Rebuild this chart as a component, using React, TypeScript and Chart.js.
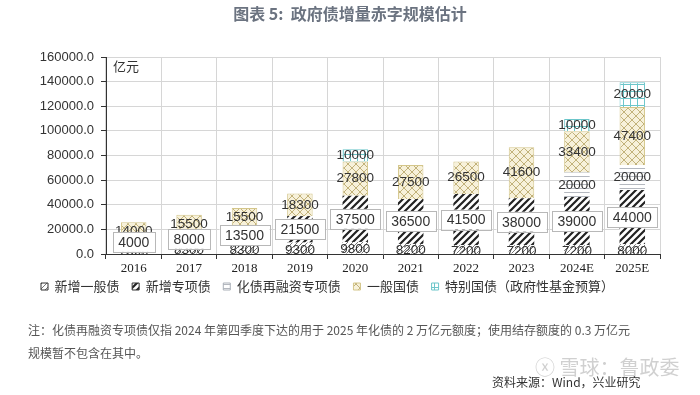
import React, { useEffect, useRef } from "react";
import { Chart, registerables } from "chart.js";

Chart.register(...registerables);

const categories = ["2016", "2017", "2018", "2019", "2020", "2021", "2022", "2023", "2024E", "2025E"];
const newGeneralBond = [7800, 8300, 8300, 9300, 9800, 8200, 7200, 7200, 7200, 8000];
const newSpecialBond = [4000, 8000, 13500, 21500, 37500, 36500, 41500, 38000, 39000, 44000];
const refinanceSpecialBond = [0, 0, 0, 0, 0, 0, 0, 0, 20000, 20000];
const generalTreasury = [14000, 15500, 15500, 18300, 27800, 27500, 26500, 41600, 33400, 47400];
const specialTreasury = [0, 0, 0, 0, 10000, 0, 0, 0, 10000, 20000];
const seriesNames = ["新增一般债", "新增专项债", "化债再融资专项债", "一般国债", "特别国债（政府性基金预算）"];
const yTicks = [0, 20000, 40000, 60000, 80000, 100000, 120000, 140000, 160000];

function makePattern(size: number, draw: (ctx: CanvasRenderingContext2D, s: number) => void) {
  const c = document.createElement("canvas");
  c.width = size;
  c.height = size;
  const ctx = c.getContext("2d")!;
  draw(ctx, size);
  return ctx.createPattern(c, "repeat")!;
}

function diag(ctx: CanvasRenderingContext2D, s: number, color: string, w: number, bg: string) {
  ctx.fillStyle = bg;
  ctx.fillRect(0, 0, s, s);
  ctx.strokeStyle = color;
  ctx.lineWidth = w;
  ctx.beginPath();
  ctx.moveTo(0, s);
  ctx.lineTo(s, 0);
  ctx.moveTo(-s / 2, s / 2);
  ctx.lineTo(s / 2, -s / 2);
  ctx.moveTo(s / 2, s + s / 2);
  ctx.lineTo(s + s / 2, s / 2);
  ctx.stroke();
}

const SANS = "'Liberation Sans', Arial, sans-serif";
const CJK = "'Noto Sans CJK SC', sans-serif";

export default function App() {
  const ref = useRef<HTMLCanvasElement>(null);

  useEffect(() => {
    const pGeneral = makePattern(5, (ctx, s) => diag(ctx, s, "#777", 1, "#ffffff"));
    const pSpecial = makePattern(7, (ctx, s) => diag(ctx, s, "#222", 2.2, "#ffffff"));
    const pRefi = makePattern(4, (ctx, s) => {
      ctx.fillStyle = "#ffffff";
      ctx.fillRect(0, 0, s, s);
      ctx.fillStyle = "#b4b8bf";
      ctx.fillRect(0, 0, s, 1);
    });
    const pTreasury = makePattern(8, (ctx, s) => {
      ctx.fillStyle = "#f7f1da";
      ctx.fillRect(0, 0, s, s);
      ctx.strokeStyle = "#c2b27a";
      ctx.lineWidth = 1;
      ctx.beginPath();
      ctx.moveTo(0, 0);
      ctx.lineTo(s, s);
      ctx.moveTo(0, s);
      ctx.lineTo(s, 0);
      ctx.stroke();
    });
    const pSpecialT = makePattern(7, (ctx, s) => {
      ctx.fillStyle = "#ffffff";
      ctx.fillRect(0, 0, s, s);
      ctx.fillStyle = "#6cc6ca";
      ctx.fillRect(0, 0, s, 1);
      ctx.fillRect(0, 0, 1, s);
    });

    const fills = [pGeneral, pSpecial, pRefi, pTreasury, pSpecialT];
    const borders = ["#444", "#333", "#aab0b8", "#d4c68a", "#6cc6ca"];
    const bw = [0, 0, 0, 1, 1];
    const values = [newGeneralBond, newSpecialBond, refinanceSpecialBond, generalTreasury, specialTreasury];

    const labelPlugin = {
      id: "segLabels",
      afterDraw(chart: any) {
        const ctx = chart.ctx as CanvasRenderingContext2D;
        ctx.save();
        ctx.font = `13px ${CJK}`;
        ctx.fillStyle = "#333";
        ctx.textAlign = "left";
        ctx.textBaseline = "middle";
        ctx.fillText("亿元", chart.chartArea.left + 7, chart.chartArea.top + 9);

        const order = [0, 2, 3, 4, 1];
        for (const di of order) {
          const meta = chart.getDatasetMeta(di);
          const data = chart.data.datasets[di].data as number[];
          meta.data.forEach((el: any, j: number) => {
            const v = data[j];
            if (!v) return;
            const p = el.getProps(["x", "y", "base"], true);
            const cy = (p.y + p.base) / 2;
            const txt = String(v);
            if (di === 1) {
              ctx.font = `14px ${SANS}`;
              const tw = ctx.measureText(txt).width;
              const w = tw + 11;
              const h = 20;
              ctx.fillStyle = "#ffffff";
              ctx.fillRect(p.x - w / 2, cy - h / 2, w, h);
              ctx.strokeStyle = "#b8b8b8";
              ctx.lineWidth = 1;
              ctx.strokeRect(Math.round(p.x - w / 2) + 0.5, Math.round(cy - h / 2) + 0.5, Math.round(w), h);
              ctx.fillStyle = "#333";
              ctx.textAlign = "center";
              ctx.textBaseline = "middle";
              ctx.fillText(txt, p.x, cy + 1);
            } else {
              ctx.font = `13.5px ${SANS}`;
              ctx.fillStyle = "#333";
              ctx.textAlign = "center";
              ctx.textBaseline = "middle";
              ctx.fillText(txt, p.x, cy + (di === 0 ? 2 : 0));
            }
          });
        }
        ctx.restore();
      },
    };

    const chart = new Chart(ref.current!, {
      type: "bar",
      data: {
        labels: categories,
        datasets: seriesNames.map((name, i) => ({
          label: name,
          data: values[i],
          backgroundColor: fills[i] as any,
          borderColor: borders[i],
          borderWidth: bw[i],
          barPercentage: 0.46,
          categoryPercentage: 1,
        })),
      },
      options: {
        animation: false,
        responsive: false,
        maintainAspectRatio: false,
        layout: { padding: { left: 40, right: 40, top: 57, bottom: 92 } },
        plugins: {
          title: { display: false },
          tooltip: { enabled: false },
          legend: {
            position: "bottom",
            align: "start",
            labels: {
              boxWidth: 7,
              boxHeight: 7,
              padding: 1,
              color: "#333",
              font: { family: CJK, size: 13 },
              generateLabels(chart: any) {
                return chart.data.datasets.map((ds: any, i: number) => ({
                  text: ds.label + (i < 4 ? "    " : ""),
                  fillStyle: ds.backgroundColor,
                  strokeStyle: i < 2 ? "#333" : ds.borderColor,
                  lineWidth: 1,
                  hidden: false,
                  datasetIndex: i,
                  fontColor: "#333",
                }));
              },
            },
          },
        },
        scales: {
          x: {
            stacked: true,
            afterFit(scale: any) {
              scale.height = 25;
            },
            grid: {
              display: true,
              offset: true,
              color: "#d6d6d6",
              tickColor: "#333",
              tickLength: 5,
            },
            border: { color: "#333", width: 1 },
            ticks: {
              color: "#222",
              padding: 2,
              font: { family: "'Liberation Serif', 'Times New Roman', serif", size: 13 },
            },
          },
          y: {
            stacked: true,
            min: 0,
            max: 160000,
            afterFit(scale: any) {
              scale.width = 66;
            },
            afterBuildTicks(scale: any) {
              scale.ticks = yTicks.map((v) => ({ value: v }));
            },
            grid: {
              color: "#d6d6d6",
              tickColor: "#333",
              tickLength: 5,
            },
            border: { color: "#333", width: 1 },
            ticks: {
              color: "#333",
              padding: 7,
              font: { family: SANS, size: 13 },
              callback: (v: any) => Number(v).toFixed(1),
            },
          },
        },
      },
      plugins: [labelPlugin],
    });
    return () => chart.destroy();
  }, []);

  return (
    <div style={{ position: "fixed", left: 0, top: 0, width: 700, height: 395, background: "#fff", overflow: "hidden" }}>
      <canvas ref={ref} width={700} height={395} style={{ position: "absolute", left: 0, top: 0, width: 700, height: 395 }} />
      <div style={{ position: "absolute", left: 0, top: 1, width: 700, textAlign: "center", fontFamily: CJK, fontSize: 16, fontWeight: 700, color: "#6b7380" }}>
        图表 5:&nbsp;&nbsp;政府债增量赤字规模估计
      </div>
      <div style={{ position: "absolute", left: 28, top: 318, fontFamily: CJK, fontSize: 12, color: "#555", lineHeight: "23px", whiteSpace: "nowrap" }}>
        注：化债再融资专项债仅指 2024 年第四季度下达的用于 2025 年化债的 2 万亿元额度；使用结存额度的 0.3 万亿元
        <br />
        规模暂不包含在其中。
      </div>
      <div style={{ position: "absolute", left: 535, top: 352, fontFamily: CJK, fontSize: 20, color: "rgba(170,170,170,0.55)", whiteSpace: "nowrap" }}>
        ⓧ 雪球：鲁政委
      </div>
      <div style={{ position: "absolute", left: 492, top: 373, fontFamily: CJK, fontSize: 12, color: "#333", whiteSpace: "nowrap" }}>
        资料来源：Wind，兴业研究
      </div>
    </div>
  );
}
